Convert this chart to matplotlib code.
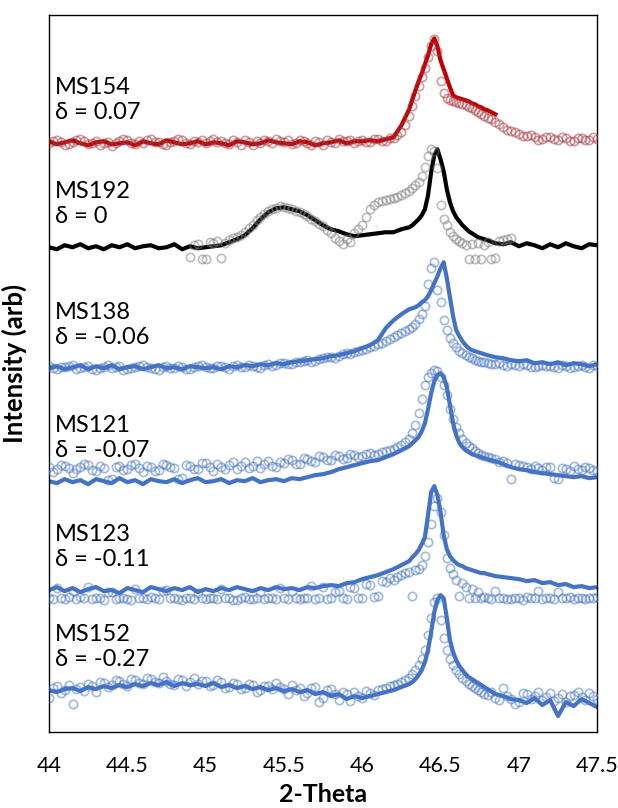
import numpy as np
import matplotlib
matplotlib.use("Agg")
import matplotlib.pyplot as plt

plt.rcParams.update({'font.family': ['Lato', 'DejaVu Sans']})
plt.rcParams.update({'font.size': 17})

nan = np.nan

# 2-theta grids: coarse away from the peak, finer across it
tt_meas = np.round(np.concatenate([np.arange(44.0, 46.26, 0.05),
                                   np.arange(46.30, 46.79, 0.02),
                                   np.arange(46.80, 47.51, 0.05)]), 3)
tt_ref = np.round(np.concatenate([np.arange(44.0, 46.28, 0.025),
                                  np.arange(46.30, 46.79, 0.02),
                                  np.arange(46.80, 47.51, 0.025)]), 3)

samples = ['MS154', 'MS192', 'MS138', 'MS121', 'MS123', 'MS152']
deltas = ['0.07', '0', '-0.06', '-0.07', '-0.11', '-0.27']
offsets = [589, 485, 364, 251, 142, 42]

# measured profile (solid), arb. units above baseline
meas = {
    'MS154': [2, -1, 1, 3, 0, -2, 1, 2, -1, 0, 1, -2, 2, 0, -1, 3, 1, -1, 0, 2,
              -1, 1, 0, -2, 2, 1, -1, 0, 3, 1, 0, -1, 2, 1, -2, 0, 1, 3, 0, 2,
              2, 3, 2, 4, 6, 18,
              34, 44, 53, 62, 70, 79, 88, 99, 105, 97, 83, 74, 65, 56, 48, 46, 45, 44, 43, 42,
              40, 39, 37, 36, 34,
              33, 29, nan, nan, nan, nan, nan, nan, nan, nan, nan, nan, nan, nan, nan],
    'MS192': [0, -2, 2, 0, 3, -1, 1, -2, 2, 0, 3, -1, 1, 2, -1, 0, 3, -2, 1, -1,
              0, 1, 2, 5, 8, 12, 19, 28, 35, 39, 40, 38, 36, 32, 27, 22, 18, 16, 13, 11,
              12, 13, 14, 15, 15, 18,
              20, 22, 25, 28, 32, 38, 52, 75, 92, 98, 88, 76, 58, 45, 36, 30, 26, 22, 19, 16,
              14, 12, 10, 9, 8,
              7, 4, 3, 5, 1, 4, 2, -1, 3, 0, 4, 1, -1, 3, 2],
    'MS138': [0, 2, -1, 1, 3, -1, 2, 0, 3, -1, 1, 2, -1, 1, 3, 0, 1, -1, 2, 1,
              0, 1, -1, 2, 1, 3, 2, 4, 3, 5, 4, 6, 7, 8, 9, 10, 12, 13, 15, 17,
              20, 23, 28, 40, 48, 54,
              59, 60, 61, 63, 66, 68, 72, 78, 85, 92, 100, 106, 90, 71, 52, 38, 32, 27, 23, 20,
              18, 17, 16, 15, 14,
              13, 11, 10, 8, 7, 8, 5, 6, 4, 6, 3, 5, 4, 2, 4],
    'MS121': [0, -2, 2, -1, 1, -3, 2, 0, -2, 3, -1, 1, -3, 2, 0, -1, 2, -2, 1, 3,
              -1, 0, 2, -2, 1, 0, 3, -1, 1, 2, 0, 3, 2, 4, 6, 7, 9, 12, 14, 16,
              18, 20, 21, 24, 27, 31,
              35, 38, 41, 44, 50, 58, 72, 88, 100, 106, 108, 104, 94, 76, 58, 46, 38, 34, 31, 29,
              27, 26, 25, 24, 23,
              22, 20, 17, 14, 12, 11, 9, 8, 7, 6, 5, 4, 5, 3, 4],
    'MS123': [0, 3, -1, 2, -2, 1, 3, -1, 0, -3, 2, 0, -2, 3, 1, -1, 2, 0, 3, -2,
              1, -1, 2, 0, 3, 1, -1, 2, 0, 3, 1, 2, 0, 3, 2, 4, 5, 4, 7, 8,
              11, 13, 15, 18, 21, 25,
              29, 33, 36, 40, 46, 53, 75, 98, 104, 95, 78, 55, 41, 34, 30, 27, 25, 24, 22, 21,
              20, 19, 18, 17, 17,
              16, 14, 13, 12, 11, 9, 10, 7, 8, 5, 6, 3, 4, 2, 3],
    'MS152': [0, -2, 1, 2, -1, 3, 1, 4, 2, 5, 3, 6, 4, 7, 5, 8, 4, 7, 5, 6,
              4, 7, 3, 5, 2, 4, 1, 3, 0, 2, -1, 1, -2, 0, -4, -2, -6, -4, -9, -6,
              -8, -6, -4, -2, 0, 3,
              6, 8, 11, 15, 20, 28, 40, 58, 78, 90, 95, 92, 72, 50, 38, 30, 24, 20, 16, 13,
              11, 9, 7, 5, 3,
              1, -4, -6, -9, -10, -13, -8, -15, -10, -26, -12, -16, -9, -13, -17],
}

# reference profile (open circles), arb. units above baseline
ref = {
    'MS154': [0, 2, 3, 1, -2, -1, 1, 3, 4, 2, -1, 0, 2, -2, 0, 1, -3, 0, 2, 4,
              3, 0, -1, 2, 0, 3, 4, 1, 1, -1, -2, 1, 2, 4, 3, 0, -1, 2, 1, 3,
              0, 2, 4, 1, 2, 0, -1, 3, 1, -2, 3, 1, -2, 2, 0, 3, 2, 0, 4, 2,
              1, 3, -1, 0, 3, 2, 0, -2, 2, 1, -2, 3, 1, 0, 4, 2, 2, 3, 0, 2,
              3, 1, 1, 4, 4, 2, 2, 5, 5, 8, 11, 18,
              27, 37, 47, 57, 66, 75, 86, 97, 104, 92, 62, 50, 45, 43, 42, 41, 40, 39, 38, 36,
              35, 33, 31, 29, 27,
              25, 24, 21, 19, 16, 13, 12, 11, 9, 7, 7, 8, 6, 3, 4, 6, 6, 4, 3, 6,
              5, 2, 2, 5, 5, 3, 3, 6, 4],
    'MS192': [nan, nan, nan, nan, nan, nan, nan, nan, nan, nan, nan, nan, nan, nan, nan, nan, nan, nan,
              nan, nan, nan, nan, nan, nan, nan, nan, nan, nan, nan, nan, nan, nan, nan, nan, nan, nan,
              -10, 2, 3, -12, -12, 5, 4, 6, -11, 4, 7, 9, 10, 12, 15, 19, 22, 27, 30, 33,
              36, 38, 39, 41, 40, 39, 38, 36, 35, 33, 31, 28, 26, 23, 21, 17, 14, 9, 6, 3,
              8, 5, 14, 18, 22, 30, 38, 42, 45, 46, 47, 48, 49, 50, 52, 54,
              56, 59, 62, 65, 71, 80, 91, 98, 96, 79, 42, 28, 22, 15, 11, 8, 6, 4, 2, -12,
              3, -12, 4, -12, 2,
              5, -12, -11, 6, 7, 8, 9, nan, nan, nan, nan, nan, nan, nan, nan, nan, nan, nan,
              nan, nan, nan, nan, nan, nan, nan, nan, nan, nan, nan],
    'MS138': [2, 0, -1, 1, 1, 2, 3, -1, 0, 1, 2, -1, -2, 0, 1, 3, 0, 1, 2, -2,
              -1, 0, 1, 2, 3, 1, 0, -1, -2, 1, 2, 0, 0, 2, 1, -1, -1, 1, 2, 3,
              1, 0, 0, 2, 2, 1, -1, 2, 3, 1, 1, 3, 2, 1, 0, 3, 4, 2, 3, 5,
              5, 4, 4, 6, 6, 7, 8, 6, 7, 9, 10, 11, 11, 10, 12, 14, 15, 14, 16, 17,
              18, 19, 21, 22, 24, 25, 27, 29, 31, 33, 35, 37,
              39, 41, 44, 49, 54, 62, 84, 100, 106, 78, 66, 48, 38, 30, 25, 21, 17, 15, 13, 11,
              10, 8, 7, 6, 6,
              5, 4, 4, 5, 3, 2, 4, 3, 2, 4, 3, 1, 1, 2, 3, 2, 2, 1, 0, 3,
              2, 0, 1, 2, 3, 1, 0, 3, 2],
    'MS121': [14, 9, 12, 16, 15, 13, 8, 12, 14, 17, 16, 11, 10, 15, 13, 1, 2, 14, 15, 11,
              12, 16, 17, 13, 9, 15, 14, 10, 11, 17, 16, 14, 13, 2, 3, 16, 15, 12, 12, 18,
              18, 14, 10, 17, 14, 12, 16, 19, 12, 15, 19, 13, 15, 20, 13, 17, 20, 15, 14, 19,
              18, 22, 21, 17, 17, 23, 22, 20, 19, 25, 24, 21, 21, 26, 25, 22, 23, 27, 26, 24,
              25, 27, 28, 26, 27, 29, 30, 31, 32, 34, 36, 39,
              42, 48, 56, 68, 82, 96, 104, 108, 111, 110, 104, 96, 86, 72, 62, 54, 48, 42, 38, 35,
              33, 30, 28, 26, 25,
              24, 23, 22, 19, 20, 18, 2, 17, 16, 15, 14, 12, 15, 13, 11, 14, 14, 3, 2, 13,
              12, 10, 15, 12, 11, 14, 13, 11, 10],
    'MS123': [-8, -9, 2, -8, -9, -7, -1, -9, -7, -8, 3, -9, -8, -8, -10, -2, -2, -9, -8, -8,
              -9, -10, 1, -8, -8, -9, -7, -8, -9, -1, 0, -8, -8, -9, -10, -8, -8, -9, -3, -8,
              -9, -8, -8, -9, 1, -8, -8, -10, -10, -8, -7, -9, -9, -8, -2, -9, -8, -8, -9, 2,
              -8, -9, -1, -8, -9, -8, -8, 4, -9, -8, 3, -9, -8, -2, -1, -8, -9, 3, 2, -8,
              -8, 6, 5, -7, -6, 9, 8, 12, 10, 13, 15, 17,
              18, -6, 20, 21, 25, 34, 48, 66, 84, 92, 78, 55, 32, 22, 16, 10, -6, 7, 3, -8,
              1, -8, -2, -8, -7,
              -8, -9, -1, -8, -8, -9, -9, -8, -8, -10, -7, -8, -8, -1, -9, -8, -8, -9, -2, -8,
              -8, -7, -9, -8, -8, -9, -8, -8, -7],
    'MS152': [-8, 2, 4, -3, 0, 5, -14, 1, 3, -1, 6, 4, -2, 8, 7, 3, 5, 10, 9, 6,
              4, 11, 10, 7, 6, 12, 11, 8, 7, 13, 9, 6, 5, 11, 10, 4, 8, 12, 6, 9,
              9, 4, 5, 10, 8, 2, 3, 7, 6, 1, 2, 6, 5, -2, 0, 4, 4, 1, 7, 3,
              1, -4, 5, 0, 2, -6, -3, 2, 3, -12, -8, 0, 1, -4, -10, -2, -4, -11, -2, -6,
              -8, -1, -3, -5, 0, 1, 2, 4, 5, 6, 8, 10,
              12, 16, 20, 25, 31, 40, 55, 72, 88, 92, 70, 52, 40, 31, 25, 20, 16, 12, 9, 6,
              4, 2, 0, -2, -4,
              -5, -2, -8, -10, 2, -6, -9, -14, -12, -3, -4, -9, -6, -2, -10, -7, -3, -11, -8, -4,
              -12, -6, -5, -2, -7, -10, -3, -6, -9],
}

line_col = {'MS154': '#C00000', 'MS192': 'black'}
ring_col = {'MS154': '#A8343C', 'MS192': '#7A7A7A'}
blue = '#4472C4'

fig = plt.figure(figsize=(6.18, 8.08), dpi=100)
ax = fig.add_axes([0.0793, 0.094, 0.887, 0.887])

for name, d, off in zip(samples, deltas, offsets):
    lc = line_col.get(name, blue)
    rc = ring_col.get(name, blue)
    ax.plot(tt_meas, np.array(meas[name], dtype=float) + off, '-', color=lc,
            lw=3.0, solid_joinstyle='round', zorder=2)
    ax.plot(tt_ref, np.array(ref[name], dtype=float) + off, 'o', mfc='none',
            mec=rc, mew=1.2, ms=6.0, alpha=0.5, zorder=3)
    ax.text(44.04, off + 43, name + '\nδ = ' + d, ha='left', va='center',
            fontsize=17, linespacing=1.25)

ax.set_xlim(44, 47.5)
ax.set_ylim(0, 717)
ax.set_xticks([44, 44.5, 45, 45.5, 46, 46.5, 47, 47.5])
ax.set_xticklabels(['44', '44.5', '45', '45.5', '46', '46.5', '47', '47.5'])
ax.set_yticks([])
ax.tick_params(axis='x', length=0, pad=17, labelsize=15.5)
for sp in ax.spines.values():
    sp.set_linewidth(1.0)

ax.set_xlabel('2-Theta', fontsize=18, fontweight='bold')
ax.xaxis.set_label_coords(0.5, -0.071)
ax.set_ylabel('Intensity (arb)', fontsize=18.5, fontweight='bold')
ax.yaxis.set_label_coords(-0.04, 0.515)

fig.savefig('out.png', dpi=100)
